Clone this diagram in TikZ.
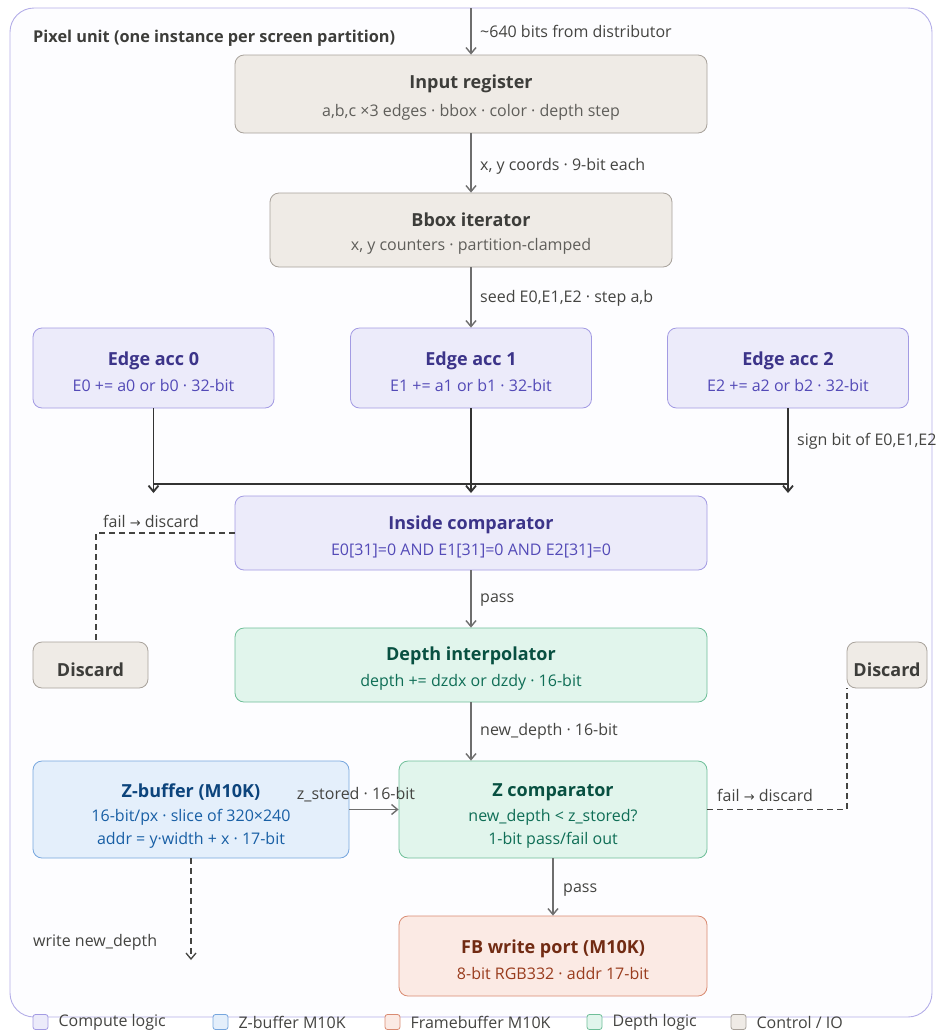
\documentclass[tikz,border=0pt]{standalone}
\usepackage{fontspec}
\setmainfont{Open Sans}
\newfontfamily\symf{DejaVu Sans}
\usetikzlibrary{arrows.meta}
\definecolor{ctrlfill}{HTML}{EFEBE6}\definecolor{ctrldraw}{HTML}{A8A29B}
\definecolor{ctrltitle}{HTML}{3D3D3A}\definecolor{ctrlsub}{HTML}{5F5E5A}
\definecolor{compfill}{HTML}{ECEBFA}\definecolor{compdraw}{HTML}{A39BE3}
\definecolor{comptitle}{HTML}{3C3489}\definecolor{compsub}{HTML}{534AB7}
\definecolor{zbfill}{HTML}{E4EFFB}\definecolor{zbdraw}{HTML}{76A6DE}
\definecolor{zbtitle}{HTML}{0C447C}\definecolor{zbsub}{HTML}{185FA5}
\definecolor{dpfill}{HTML}{E1F5EC}\definecolor{dpdraw}{HTML}{6FBF99}
\definecolor{dptitle}{HTML}{085041}\definecolor{dpsub}{HTML}{0F6E56}
\definecolor{fbfill}{HTML}{FBEAE4}\definecolor{fbdraw}{HTML}{D98B72}
\definecolor{fbtitle}{HTML}{712B13}\definecolor{fbsub}{HTML}{993C1D}
\definecolor{framedraw}{HTML}{B4AEE8}\definecolor{framefill}{HTML}{FDFDFF}
\definecolor{wire}{HTML}{6E6E6E}\definecolor{lbl}{HTML}{444441}
\newcommand\ttl{\fontsize{18}{19}\selectfont\bfseries}
\newcommand\sbt{\fontsize{16}{19}\selectfont}
\newcommand\hd{\rule{0pt}{21pt}}
\newcommand\hdd{\rule{0pt}{26pt}}
\tikzset{
	box/.style={draw, rounded corners=9pt, line width=0.8pt, align=center, inner sep=0pt},
	ctrl/.style={box, fill=ctrlfill, draw=ctrldraw},
	compute/.style={box, fill=compfill, draw=compdraw},
	zbuf/.style={box, fill=zbfill, draw=zbdraw},
	depthb/.style={box, fill=dpfill, draw=dpdraw},
	fbuf/.style={box, fill=fbfill, draw=fbdraw},
	discbox/.style={ctrl, minimum height=46pt, font=\ttl, text=ctrltitle, text depth=0pt, text height=23pt},
	flow/.style={draw=wire, line width=1.4pt, -{Straight Barb[length=6pt,width=10pt]}},
	bus/.style={draw=black!80, line width=1.8pt},
	fail/.style={draw=lbl, line width=1.6pt, dash pattern=on 6pt off 4pt},
	lab/.style={text=lbl, font=\sbt, inner sep=0pt},
	legsq/.style={draw, rounded corners=2.5pt, line width=0.8pt, minimum size=15pt, inner sep=0pt}
}
\begin{document}
\begin{tikzpicture}[x=1pt,y=-1pt]
\useasboundingbox (0,0) rectangle (940,1034);
\draw[draw=framedraw, fill=framefill, line width=0.9pt, rounded corners=24pt] (10,8) rectangle (932,1017);
\node[anchor=base west, text=ctrltitle, font=\fontsize{16.3}{19}\selectfont\bfseries, inner sep=0pt] (unit) at (33,42) {Pixel unit (one instance per screen partition)};

% input side
\node[ctrl, minimum width=472pt, minimum height=78pt] (inreg) at (471,94)
	{{\ttl\color{ctrltitle}\hd Input register}\\[10pt]{\sbt\color{ctrlsub}a,b,c ×3 edges · bbox · color · depth step}};
\node[ctrl, minimum width=402pt, minimum height=74pt] (bbox) at (471,230)
	{{\ttl\color{ctrltitle}\hd Bbox iterator}\\[10pt]{\sbt\color{ctrlsub}x, y counters · partition-clamped}};
\coordinate (feed) at (471,8);
\draw[flow] (feed) -- (inreg);
\node[lab, anchor=west] (feedlab) at (480,31) {\textasciitilde640 bits from distributor};
\draw[flow] (inreg) -- (bbox);
\node[lab, anchor=west] (xylab) at (480,166) {x, y coords · 9-bit each};

% edge accumulators
\foreach \i/\x in {0/153.5,1/471,2/788}{
	\node[compute, minimum width=241pt, minimum height=80pt] (acc\i) at (\x,368)
		{{\ttl\color{comptitle}\hd Edge acc \i}\\[9pt]{\sbt\color{compsub}E\i{} += a\i{} or b\i{} · 32-bit}};
	\coordinate (bus\i) at (\x,484);
	\coordinate (tip\i) at (\x,493);
	\draw[bus] (acc\i) -- (bus\i);
	\draw[bus, -{Straight Barb[length=6pt,width=10pt]}] (bus\i) -- (tip\i);}
\draw[bus] (bus0) -- (bus2);
\draw[flow] (bbox) -- (acc1);
\node[lab, anchor=west] (seedlab) at (480,298) {seed E0,E1,E2 · step a,b};
\node[lab, anchor=west] (signlab) at (797,441) {sign bit of E0,E1,E2};

% inside test
\node[compute, minimum width=472pt, minimum height=74pt] (inside) at (471,533)
	{{\ttl\color{comptitle}\hd Inside comparator}\\[9pt]{\sbt\color{compsub}E0[31]=0 AND E1[31]=0 AND E2[31]=0}};
\node[discbox, minimum width=115pt] (discL) at (90.5,665) {Discard};
\draw[fail] (inside.west) -| ([xshift=5.5pt]discL.north);
\node[lab, anchor=west] (faillabL) at (103,521) {fail {\symf\fontsize{13}{14}\selectfont →} discard};

\node[depthb, minimum width=472pt, minimum height=74pt] (interp) at (471,665)
	{{\ttl\color{dptitle}\hd Depth interpolator}\\[9pt]{\sbt\color{dpsub}depth += dzdx or dzdy · 16-bit}};
\draw[flow] (inside) -- (interp);
\node[lab, anchor=west] (passlab) at (480,600) {pass};

% depth test
\node[zbuf, minimum width=316pt, minimum height=97pt] (zbuffer) at (191,809.5)
	{{\ttl\color{zbtitle}\hdd Z-buffer (M10K)}\\[8pt]{\sbt\color{zbsub}16-bit/px · slice of 320×240}\\[6pt]{\sbt\color{zbsub}addr = y·width + x · 17-bit}};
\node[depthb, minimum width=308pt, minimum height=97pt] (zcomp) at (553,809.5)
	{{\ttl\color{dptitle}\hdd Z comparator}\\[8pt]{\sbt\color{dpsub}new\_depth < z\_stored?}\\[6pt]{\sbt\color{dpsub}1-bit pass/fail out}};
\node[discbox, minimum width=80pt] (discR) at (887,665) {Discard};
\draw[flow] (interp) -- (interp |- zcomp.north);
\node[lab, anchor=west] (ndlab) at (480,731) {new\_depth · 16-bit};
\draw[flow] (zbuffer) -- (zcomp);
\node[lab] (zslab) at (356,795) {z\_stored · 16-bit};
\draw[fail] (zcomp.east) -| ([xshift=0.5pt]discR.south west);
\node[lab, anchor=west] (faillabR) at (717,795) {fail {\symf\fontsize{13}{14}\selectfont →} discard};
\coordinate (wrtip) at (191,960);
\draw[fail, line width=1.3pt, -{Straight Barb[length=6pt,width=10pt]}] (zbuffer) -- (wrtip);
\node[lab, anchor=west] (wrlab) at (33,942) {write new\_depth};

\node[fbuf, minimum width=308pt, minimum height=80pt] (fbport) at (553,956)
	{{\ttl\color{fbtitle}\hd FB write port (M10K)}\\[9pt]{\sbt\color{fbsub}8-bit RGB332 · addr 17-bit}};
\draw[flow] (zcomp) -- (fbport);
\node[lab, anchor=west] (pass2lab) at (563,890) {pass};

% legend
\foreach \n/\x/\f/\d/\t in {1/40.5/compfill/compdraw/{Compute logic}, 2/220.5/zbfill/zbdraw/{Z-buffer M10K}, 3/392.5/fbfill/fbdraw/{Framebuffer M10K}, 4/594.5/dpfill/dpdraw/{Depth logic}, 5/738.5/ctrlfill/ctrldraw/{Control / IO}}{
	\node[legsq, fill=\f, draw=\d] (leg\n) at (\x,1022) {};
	\node[lab, anchor=west] (legt\n) at ([xshift=10pt]leg\n.east) {\t};}
\end{tikzpicture}
\end{document}
